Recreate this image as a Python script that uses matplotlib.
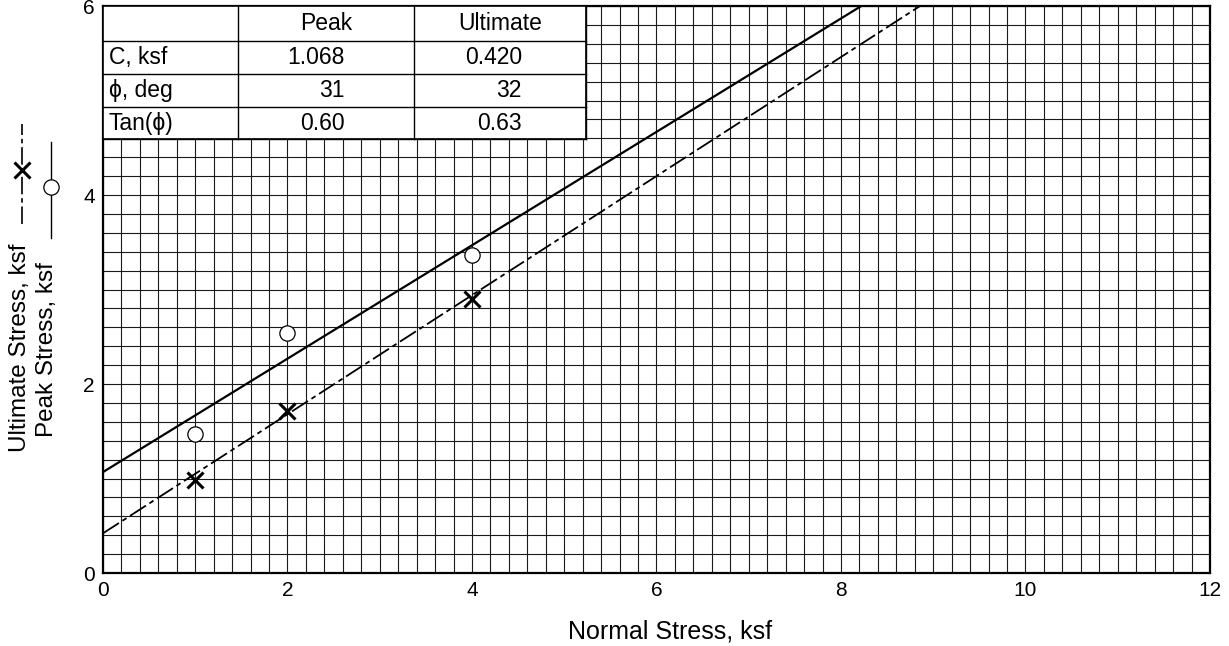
import numpy as np
import matplotlib
matplotlib.use("Agg")
import matplotlib.pyplot as plt
from matplotlib.lines import Line2D
from matplotlib.patches import Rectangle

plt.rcParams['font.family'] = ['Liberation Sans', 'DejaVu Sans']

# test data
normal_stress = [1, 2, 4]
peak_stress = [1.47, 2.54, 3.36]
ultimate_stress = [0.98, 1.71, 2.90]

# fitted envelopes (from the table)
peak_c, peak_tan = 1.068, 0.60
ult_c, ult_tan = 0.420, 0.63

table_cols = ["", "Peak", "Ultimate"]
table_rows = ["C, ksf", "\u03d5, deg", "Tan(\u03d5)"]
table_peak = ["1.068", "31", "0.60"]
table_ult = ["0.420", "32", "0.63"]

x_ticks = [0, 2, 4, 6, 8, 10, 12]
y_ticks = [0, 2, 4, 6]

ULT_DASH = (0, (10.5, 2.3, 2.7, 2.3))

fig = plt.figure(figsize=(12.29, 6.46), dpi=100)
ax = fig.add_axes([0.0838, 0.113, 0.9007, 0.8777])

ax.set_xlim(0, 12)
ax.set_ylim(0, 6)
ax.set_xticks(x_ticks)
ax.set_yticks(y_ticks)
ax.set_xticks(np.arange(0, 12.001, 0.2), minor=True)
ax.set_yticks(np.arange(0, 6.001, 0.2), minor=True)
ax.grid(which='both', color='#1a1a1a', lw=0.8)
ax.tick_params(which='both', length=0, labelsize=15, pad=6)
for s in ax.spines.values():
    s.set_linewidth(1.6)

# envelopes
xx = np.array([0, 12])
ax.plot(xx, peak_c + peak_tan * xx, color='black', lw=1.6, zorder=4)
ax.plot(xx, ult_c + ult_tan * xx, color='black', lw=1.3,
        linestyle=ULT_DASH, zorder=4)

# data points
ax.plot(normal_stress, peak_stress, 'o', mfc='white', mec='black',
        ms=11, mew=0.9, zorder=5)
ax.plot(normal_stress, ultimate_stress, 'x', color='black',
        ms=12, mew=2.2, zorder=5)

# table in the upper left corner
col_edges = [0, 1.46, 3.37, 5.24]
row_edges = [6, 5.63, 5.28, 4.93, 4.59]
ax.add_patch(Rectangle((col_edges[0], row_edges[-1]), col_edges[-1],
                       row_edges[0] - row_edges[-1], facecolor='white',
                       edgecolor='black', lw=1.2, zorder=6))
for xe in col_edges[1:]:
    ax.plot([xe, xe], [row_edges[-1], row_edges[0]], color='black', lw=1.0, zorder=7)
for ye in row_edges[1:]:
    ax.plot([0, col_edges[-1]], [ye, ye], color='black', lw=1.0, zorder=7)

fs = 16.5
for j, lab in enumerate(table_cols):
    if lab:
        ax.text((col_edges[j] + col_edges[j + 1]) / 2, (row_edges[0] + row_edges[1]) / 2,
                lab, ha='center', va='center', fontsize=fs, zorder=8)
for i, lab in enumerate(table_rows):
    yc = (row_edges[i + 1] + row_edges[i + 2]) / 2
    ax.text(0.06, yc, lab, ha='left', va='center', fontsize=fs, zorder=8)
    ax.text(2.62, yc, table_peak[i], ha='right', va='center', fontsize=fs, zorder=8)
    ax.text(4.54, yc, table_ult[i], ha='right', va='center', fontsize=fs, zorder=8)

W, H = 1229, 646
fig.text(670 / W, 1 - 631 / H, "Normal Stress, ksf", ha='center', va='center', fontsize=18)

# rotated y labels with their own legend symbols
fig.text(20 / W, 1 - 348 / H, "Ultimate Stress, ksf", rotation=90,
         ha='center', va='center', fontsize=17.5)
fig.text(47 / W, 1 - 350 / H, "Peak Stress, ksf", rotation=90,
         ha='center', va='center', fontsize=17.5)
fig.add_artist(Line2D([22 / W, 22 / W], [1 - 224 / H, 1 - 124 / H], color='black',
                      lw=1.2, linestyle=ULT_DASH))
fig.add_artist(Line2D([22 / W], [1 - 170 / H], marker='x', color='black',
                      ms=12, mew=2.2))
fig.add_artist(Line2D([51 / W, 51 / W], [1 - 238 / H, 1 - 142 / H], color='black', lw=1.0))
fig.add_artist(Line2D([51 / W], [1 - 187 / H], marker='o', mfc='white', mec='black',
                      ms=11, mew=0.9))

fig.savefig("out.png", dpi=100)
